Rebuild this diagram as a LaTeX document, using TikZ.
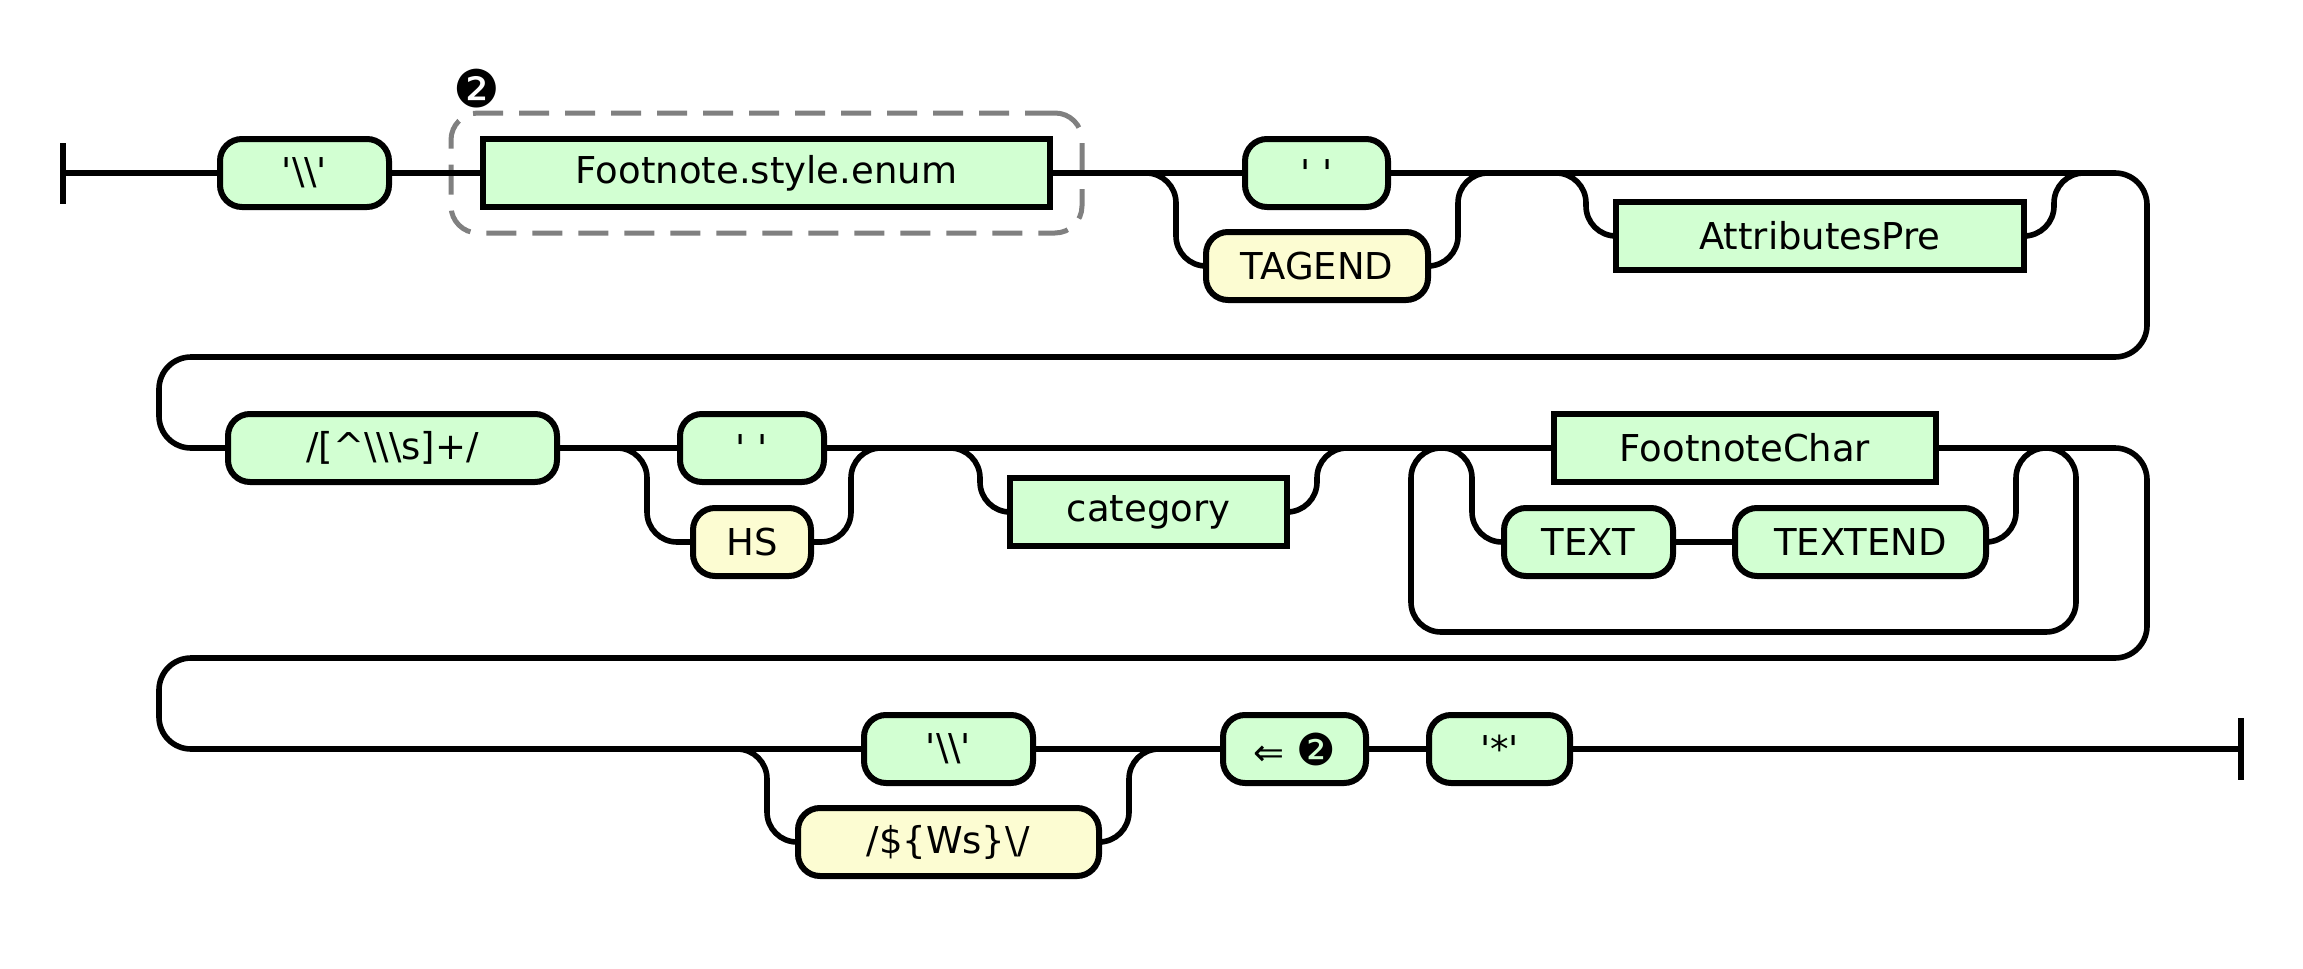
\documentclass[tikz,border=0pt]{standalone}
\usepackage{fontspec}
\newfontfamily\rrfont{DejaVu Sans}
\definecolor{termgreen}{RGB}{210,255,210}
\definecolor{termyellow}{RGB}{252,252,210}
\definecolor{dashgray}{RGB}{128,128,128}
\begin{document}
\begin{tikzpicture}[x=1pt,y=-1pt,
  font=\rrfont\fontsize{37pt}{44pt}\selectfont,
  rr/.style={line width=5.6pt,draw=black},
  rc/.style={rr,rounded corners=30pt},
  rcb/.style={rr,rounded corners=32pt},
  term/.style={draw=black,line width=6pt,fill=termgreen,rounded corners=22pt,minimum height=68pt,inner sep=0pt},
  yterm/.style={term,fill=termyellow},
  nonterm/.style={draw=black,line width=6pt,fill=termgreen,minimum height=68pt,inner sep=0pt},
  dashbox/.style={draw=dashgray,line width=5pt,dash pattern=on 30pt off 16pt,rounded corners=27pt,inner sep=0pt}]
\useasboundingbox (0,0) rectangle (2303,969);

% ---------- nodes ----------
\node[dashbox,minimum width=631pt,minimum height=120pt] (grp) at (766.5,173) {};
\node[font=\rrfont\fontsize{52pt}{60pt}\selectfont] (lbl) at (477,89) {❷};
\node[term,minimum width=169pt] (bs1) at (304.5,173) {'\textbackslash\textbackslash'};
\node[nonterm,minimum width=567pt] (fse) at (766.5,173) {Footnote.style.enum};
\node[term,minimum width=143pt] (sp1) at (1316.5,173) {'\ '};
\node[yterm,minimum width=222pt] (tagend) at (1317,266) {TAGEND};
\node[nonterm,minimum width=408pt] (attr) at (1820,236) {AttributesPre};

\node[term,minimum width=329pt] (regex) at (392.5,448) {/[\textasciicircum\textbackslash\textbackslash\textbackslash s]+/};
\node[term,minimum width=144pt] (sp2) at (752,448) {'\ '};
\node[yterm,minimum width=118pt] (hs) at (752,542) {HS};
\node[nonterm,minimum width=277pt] (cat) at (1148.5,512) {category};
\node[nonterm,minimum width=382pt] (fnchar) at (1745,448) {FootnoteChar};
\node[term,minimum width=169pt] (text) at (1588.5,542) {TEXT};
\node[term,minimum width=251pt] (textend) at (1860.5,542) {TEXTEND};

\node[term,minimum width=169pt] (bs2) at (948.5,749) {'\textbackslash\textbackslash'};
\node[yterm,minimum width=301pt] (ws) at (948.5,842) {/\$\{Ws\}\textbackslash/};
\node[term,minimum width=143pt] (back) at (1294.5,749) {⇐ {\fontsize{44pt}{50pt}\selectfont ❷}};
\node[term,minimum width=141pt] (star) at (1499.5,749) {'*'};

% ---------- coordinates ----------
\coordinate (s0) at (63,173);
\coordinate (c1) at (1146,173);
\coordinate (m1) at (1488,173);
\coordinate (c2) at (1556,173);
\coordinate (m2) at (2084,173);
\coordinate (t1) at (2147,173);
\coordinate (t2) at (2147,357);
\coordinate (t3) at (159,357);
\coordinate (t4) at (159,448);
\coordinate (c3) at (617,448);
\coordinate (m3) at (881,448);
\coordinate (c4) at (950,448);
\coordinate (m4) at (1347,448);
\coordinate (ll) at (1441,448);
\coordinate (c5) at (1442,448);
\coordinate (m5) at (2046,448);
\coordinate (lr) at (2046,448);
\coordinate (l1) at (2076,448);
\coordinate (l2) at (2076,632);
\coordinate (l3) at (1411,632);
\coordinate (l4) at (1411,448);
\coordinate (u1) at (2147,448);
\coordinate (u2) at (2147,658);
\coordinate (u3) at (159,658);
\coordinate (u4) at (159,749);
\coordinate (c6) at (737,749);
\coordinate (m6) at (1159,749);
\coordinate (e0) at (2241,749);

% ---------- row 1 ----------
\draw[rr] ([yshift=30pt]s0) -- ([yshift=-31pt]s0);
\draw[rr] (s0) -- (bs1.west);
\draw[rr] (bs1.east) -- (fse.west);
\draw[rr] (fse.east) -- (sp1.west);
\draw[rc] (c1) -- ++(30,0) |- (tagend.west);
\draw[rc] (tagend.east) -| ([xshift=-30pt]m1) -- (m1);
\draw[rc] (c2) -- ++(30,0) |- (attr.west);
\draw[rc] (attr.east) -| ([xshift=-30pt]m2) -- (m2);
\draw[rcb] (sp1.east) -- (t1) -- (t2) -- (t3) -- (t4) -- (regex.west);

% ---------- row 2 ----------
\draw[rr] (regex.east) -- (sp2.west);
\draw[rc] (c3) -- ++(30,0) |- (hs.west);
\draw[rc] (hs.east) -| ([xshift=-30pt]m3) -- (m3);
\draw[rr] (sp2.east) -- (fnchar.west);
\draw[rc] (c4) -- ++(30,0) |- (cat.west);
\draw[rc] (cat.east) -| ([xshift=-30pt]m4) -- (m4);
\draw[rc] (lr) -- (l1) -- (l2) -- (l3) -- (l4) -- (ll);
\draw[rc] (c5) -- ++(30,0) |- (text.west);
\draw[rr] (text.east) -- (textend.west);
\draw[rc] (textend.east) -| ([xshift=-30pt]m5) -- (m5);
\draw[rcb] (fnchar.east) -- (u1) -- (u2) -- (u3) -- (u4) -- (bs2.west);

% ---------- row 3 ----------
\draw[rc] (c6) -- ++(30,0) |- (ws.west);
\draw[rc] (ws.east) -| ([xshift=-30pt]m6) -- (m6);
\draw[rr] (bs2.east) -- (back.west);
\draw[rr] (back.east) -- (star.west);
\draw[rr] (star.east) -- (e0);
\draw[rr] ([yshift=31pt]e0) -- ([yshift=-31pt]e0);
\end{tikzpicture}
\end{document}
